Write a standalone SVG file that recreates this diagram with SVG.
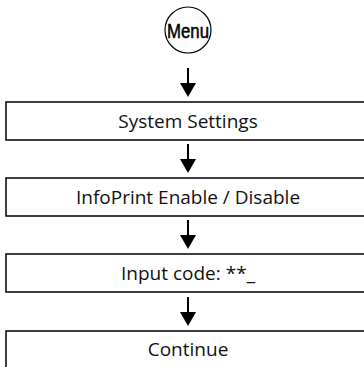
<svg xmlns="http://www.w3.org/2000/svg" width="364" height="367" viewBox="0 0 364 367">
<style>
.box{fill:#fff;stroke:#000;stroke-width:1.5}
.lbl{font-family:"Open Sans","Noto Sans",sans-serif;font-size:19px;fill:#111;text-anchor:middle}
.shaft{stroke:#000;stroke-width:2;fill:none}
.head{fill:#000}
</style>
<rect width="364" height="367" fill="#fff"/>
<g id="menu">
<circle cx="188" cy="30" r="23" fill="#fff" stroke="#000" stroke-width="1.2"/>
<text x="188" y="37.5" font-family="Liberation Sans,Arial,sans-serif" font-size="20" text-anchor="middle" textLength="42" lengthAdjust="spacingAndGlyphs" stroke="#000" stroke-width="0.5">Menu</text>
</g>
<g id="connectors">
<line class="shaft" x1="188" y1="68" x2="188" y2="84"/>
<polygon class="head" points="180,83 196,83 188,97"/>
<line class="shaft" x1="188" y1="144" x2="188" y2="160"/>
<polygon class="head" points="180,159 196,159 188,173"/>
<line class="shaft" x1="188" y1="220" x2="188" y2="236"/>
<polygon class="head" points="180,235 196,235 188,249"/>
<line class="shaft" x1="188" y1="297" x2="188" y2="313"/>
<polygon class="head" points="180,312 196,312 188,326"/>
</g>
<g id="system-settings">
<rect class="box" x="6" y="102" width="370" height="38"/>
<text class="lbl" x="188" y="127.5">System Settings</text>
</g>
<g id="infoprint">
<rect class="box" x="6" y="178" width="370" height="38"/>
<text class="lbl" x="188" y="203.5">InfoPrint Enable / Disable</text>
</g>
<g id="input-code">
<rect class="box" x="6" y="254" width="370" height="38"/>
<text class="lbl" x="188" y="279.5">Input code: **_</text>
</g>
<g id="continue">
<rect class="box" x="6" y="331" width="370" height="40"/>
<text class="lbl" x="188" y="356">Continue</text>
</g>
</svg>
